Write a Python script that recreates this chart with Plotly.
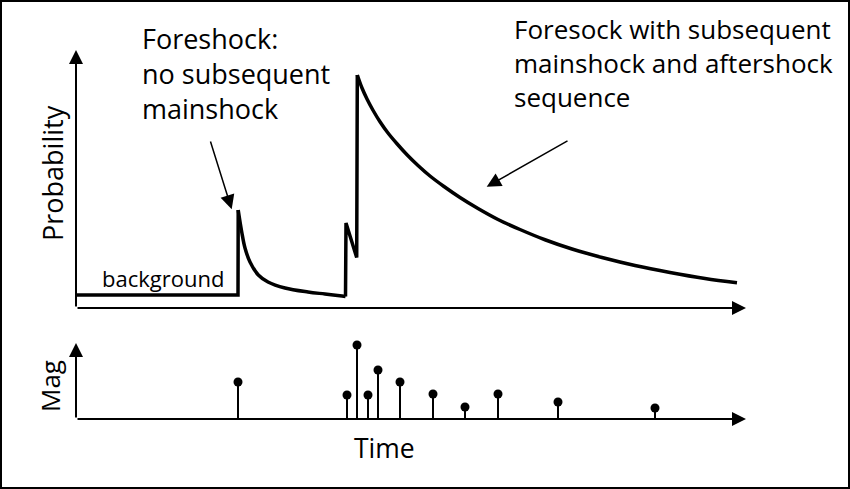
import plotly.graph_objects as go

# ---- data (schematic, arbitrary units) ----
curve_time = [0, 162, 162.2, 165.7, 169, 174, 182.3, 192, 209, 232, 249, 266, 269.5,
              270, 280.7, 281.3, 286, 291, 297, 304, 312, 321, 331, 342, 354, 368,
              384, 402, 422, 444, 469, 496, 526, 559, 594, 629, 661]
curve_prob = [5.2, 5.2, 39.2, 30.5, 24, 18.4, 13.2, 10.4, 8, 6.4, 5.6, 4.8, 4.6,
              34, 20.2, 93.2, 88.0, 83.6, 79.1, 74.5, 70.0, 65.7, 61.3, 57.0, 52.8, 48.6,
              44.2, 39.8, 35.4, 31.4, 27.3, 23.6, 20.2, 17.0, 14.2, 11.8, 10.1]
# index ranges of the curve: straight jumps vs smooth decays
straight_parts = [(0, 2), (12, 15)]
decay_parts = [(2, 12), (15, len(curve_time) - 1)]

event_time = [162, 271, 281, 292, 302, 324, 357, 389, 422, 482, 579]
event_mag = [3.7, 2.4, 7.4, 2.4, 4.9, 3.7, 2.5, 1.2, 2.5, 1.7, 1.1]

time_end = 670
prob_end = 103.2
mag_end = 7.6

FONT = "Open Sans"

fig = go.Figure()

for (a, b), shape in [(p, "linear") for p in straight_parts] + [(p, "spline") for p in decay_parts]:
    fig.add_trace(go.Scatter(x=curve_time[a:b + 1], y=curve_prob[a:b + 1], mode="lines",
                             line=dict(color="black", width=3.5, shape=shape, smoothing=1.0),
                             xaxis="x", yaxis="y", hoverinfo="skip"))

stem_x, stem_y = [], []
for t, m in zip(event_time, event_mag):
    stem_x += [t, t, None]
    stem_y += [0, m, None]
fig.add_trace(go.Scatter(x=stem_x, y=stem_y, mode="lines",
                         line=dict(color="black", width=2),
                         xaxis="x", yaxis="y2", hoverinfo="skip"))
fig.add_trace(go.Scatter(x=event_time, y=event_mag, mode="markers",
                         marker=dict(color="black", size=9),
                         xaxis="x", yaxis="y2", hoverinfo="skip"))

ann = []
def arrow(x, y, ax, ay, yref, width=2, size=1.4):
    ann.append(dict(x=x, y=y, ax=ax, ay=ay, xref="x", yref=yref, axref="x", ayref=yref,
                    text="", showarrow=True, arrowhead=2, arrowsize=size,
                    arrowwidth=width, arrowcolor="black"))

# axes arrows
arrow(time_end, 0, 0, 0, "y")
arrow(0, prob_end, 0, 0, "y")
arrow(time_end, 0, 0, 0, "y2")
arrow(0, mag_end, 0, 0, "y2")
# pointer arrows
arrow(155.7, 39.5, 134, 67.2, "y", width=1.5, size=1.9)
arrow(410.7, 48.5, 493, 67.2, "y", width=1.5, size=1.9)

def label(text, px, py, size, xanchor="left", yanchor="top", angle=0, align="left"):
    ann.append(dict(text=text, x=px / 850, y=1 - py / 489, xref="paper", yref="paper",
                    xanchor=xanchor, yanchor=yanchor, showarrow=False, textangle=angle,
                    align=align, font=dict(family=FONT, size=size, color="black")))

label("Foreshock:<br>no subsequent<br>mainshock", 140, 18, 27)
label("Foresock with subsequent<br>mainshock and aftershock<br>sequence", 512, 9, 26)
label("background", 163, 278, 22, xanchor="center", yanchor="middle")
label("Probability", 52, 173, 27, xanchor="center", yanchor="middle", angle=-90)
label("Mag", 50, 386, 26, xanchor="center", yanchor="middle", angle=-90)
label("Time", 384, 448, 26.5, xanchor="center", yanchor="middle")

fig.update_layout(
    width=850, height=489, autosize=False,
    margin=dict(l=0, r=0, t=0, b=0, pad=0),
    paper_bgcolor="white", plot_bgcolor="white",
    showlegend=False,
    xaxis=dict(range=[-76, 774], visible=False, domain=[0, 1]),
    yaxis=dict(range=[-4.8, 123.2], visible=False, domain=[169 / 489, 1], anchor="x"),
    yaxis2=dict(range=[-7, 9.9], visible=False, domain=[0, 169 / 489], anchor="x"),
    annotations=ann,
    shapes=[dict(type="rect", xref="paper", yref="paper", x0=0, y0=0, x1=1, y1=1,
                 line=dict(color="black", width=4))],
)

fig.write_html("out.html", config={"displayModeBar": False},
               post_script="document.body.style.margin='0px';document.body.style.overflow='hidden';")
